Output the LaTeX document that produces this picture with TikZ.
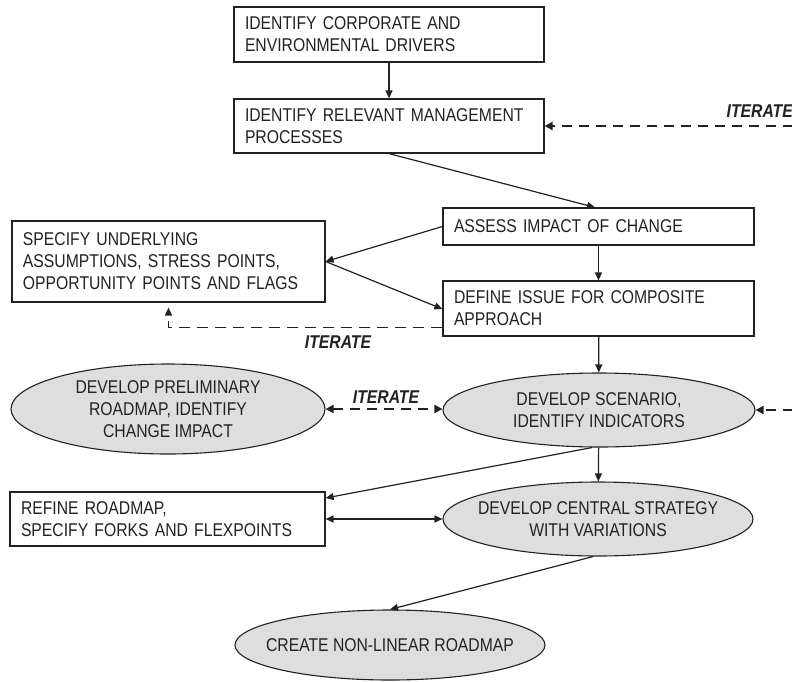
\documentclass[tikz,border=0pt]{standalone}
\usepackage{fontspec}
\setmainfont{Liberation Sans}[FakeStretch=0.85]
\usetikzlibrary{arrows.meta,shapes.geometric}
\definecolor{inkc}{HTML}{222222}
\definecolor{ovalfill}{HTML}{DEDEDE}
\begin{document}
\begin{tikzpicture}[x=1pt,y=-1pt,
  every node/.style={font=\fontsize{18.5}{22}\selectfont,text=inkc},
  box/.style={draw=inkc,line width=1.2pt,rectangle,inner sep=0pt,align=left},
  oval/.style={draw=inkc,line width=1.1pt,ellipse,fill=ovalfill,align=center,
    inner xsep=-45pt,inner ysep=0pt},
  link/.style={draw=inkc,line width=1.2pt,-{Triangle[length=8pt,width=7pt]}},
  loop/.style={draw=inkc,line width=2.2pt,dash pattern=on 10pt off 7pt,
    -{Triangle[length=8pt,width=8pt]}},
  loopthin/.style={draw=inkc,line width=1.5pt,dash pattern=on 11pt off 7pt,
    -{Triangle[length=8pt,width=7pt]}},
  tag/.style={font=\fontsize{18.5}{22}\selectfont\bfseries\itshape,text=inkc,inner sep=0pt}
]
\useasboundingbox[fill=white] (0,0) rectangle (792,681);

% process boxes
\node[box,minimum width=310pt,minimum height=55pt,text width=288pt] (drivers) at (389,34.5)
  {IDENTIFY CORPORATE AND\\ENVIRONMENTAL DRIVERS};
\node[box,minimum width=310pt,minimum height=54pt,text width=288pt] (processes) at (389,126)
  {IDENTIFY RELEVANT MANAGEMENT\\PROCESSES};
\node[box,minimum width=311pt,minimum height=37pt,text width=289pt] (assess) at (598.5,226.5)
  {ASSESS IMPACT OF CHANGE};
\node[box,minimum width=311pt,minimum height=55pt,text width=289pt] (define) at (598.5,308.5)
  {DEFINE ISSUE FOR COMPOSITE\\APPROACH};
\node[box,minimum width=313pt,minimum height=81pt,text width=291pt] (specify) at (168.5,261.5)
  {SPECIFY UNDERLYING\\ASSUMPTIONS, STRESS POINTS,\\OPPORTUNITY POINTS AND FLAGS};
\node[box,minimum width=315pt,minimum height=54pt,text width=293pt] (refine) at (167.5,519)
  {REFINE ROADMAP,\\SPECIFY FORKS AND FLEXPOINTS};

% scenario ovals
\node[oval,minimum width=314pt,minimum height=90pt] (prelim) at (168,409)
  {DEVELOP PRELIMINARY\\ROADMAP, IDENTIFY\\CHANGE IMPACT};
\node[oval,minimum width=312pt,minimum height=74pt] (scenario) at (599,410)
  {DEVELOP SCENARIO,\\IDENTIFY INDICATORS};
\node[oval,minimum width=310pt,minimum height=74pt] (central) at (598,519)
  {DEVELOP CENTRAL STRATEGY\\WITH VARIATIONS};
\node[oval,minimum width=310pt,minimum height=70pt] (create) at (390,645)
  {CREATE NON-LINEAR ROADMAP};

% free ends of the incoming iteration loops
\coordinate (loopA) at (793,126);
\coordinate (loopB) at (793,410);

% main flow
\draw[link] (drivers) -- (processes);
\draw[link] (processes.south) -- ([xshift=-3.5pt]assess.north);
\draw[link] (assess) -- (define);
\draw[link] (assess.west) -- (specify.east);
\draw[link] (specify.east) -- ([yshift=-0.5pt]define.west);
\draw[link] (define) -- (scenario);
\draw[link] ([xshift=-7pt]scenario.south) -- ([yshift=21pt]refine.east);
\draw[link] (scenario) -- (central);
\draw[draw=inkc,line width=1.3pt,{Triangle[length=8pt,width=7pt]}-{Triangle[length=8pt,width=7pt]}]
  (refine.east) -- (central.west);
\draw[link] ([xshift=-5pt]central.south) -- (create.north);

% iteration loops
\draw[loop] (loopA) -- (processes.east);
\node[tag,anchor=east] (tagA) at (793,111) {ITERATE};
\draw[loop] (loopB) -- (scenario.east);
\draw[loop,{Triangle[length=8pt,width=8pt]}-{Triangle[length=8pt,width=8pt]}]
  (prelim.east) -- (prelim.east -| scenario.west);
\node[tag] (tagB) at (386,397) {ITERATE};
\draw[loopthin,shorten >=5pt] ([yshift=9pt]define.south west) -| (specify.south);
\node[tag] (tagC) at (338,342) {ITERATE};
\end{tikzpicture}
\end{document}
